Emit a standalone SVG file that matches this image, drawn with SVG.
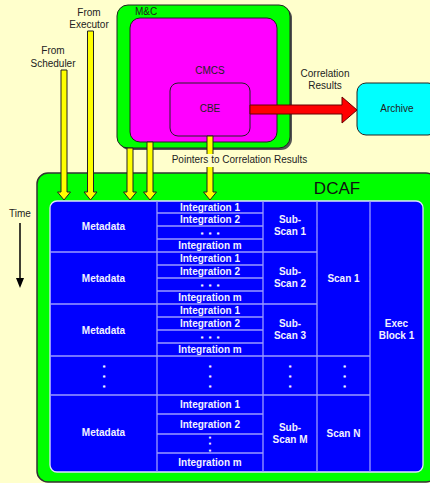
<svg xmlns="http://www.w3.org/2000/svg" width="430" height="483" viewBox="0 0 430 483">
<style>
.lbl{font-family:"Liberation Sans",Arial,sans-serif;font-size:10px;fill:#222}
.cell{font-family:"Liberation Sans",Arial,sans-serif;font-size:10px;font-weight:bold;fill:#F2F2FF;text-anchor:middle}
.vdot{font-family:"Liberation Sans",Arial,sans-serif;font-size:8px;font-weight:bold;fill:#F2F2FF;stroke:#F2F2FF;stroke-width:1;text-anchor:middle}
.sdot{font-family:"Liberation Sans",Arial,sans-serif;font-size:5px;font-weight:bold;fill:#F2F2FF;stroke:#F2F2FF;stroke-width:1.1;text-anchor:middle}
.grid{stroke:#9A9AFF;stroke-width:1.3;fill:none}
.yarrow{fill:#FFFF00;stroke:#222;stroke-width:1}
.box{stroke:#222;stroke-width:1}
</style>
<rect width="430" height="483" fill="#FFFFCC"/>

<g id="mc">
<rect x="119" y="7" width="173" height="143" rx="11" fill="#555"/>
<rect class="box" x="117" y="5" width="173" height="143" rx="11" fill="#00FF00"/>
<text class="lbl" x="135" y="15">M&amp;C</text>
</g>
<g id="cmcs">
<rect class="box" x="130" y="18" width="147" height="124" rx="10" fill="#FF00FF"/>
<text class="lbl" x="210" y="74" text-anchor="middle">CMCS</text>
</g>
<g id="cbe">
<rect class="box" x="170" y="83" width="80" height="53" rx="8" fill="#FF00FF"/>
<text class="lbl" x="210" y="111.5" text-anchor="middle">CBE</text>
</g>
<g id="archive">
<rect class="box" x="357" y="83" width="80" height="52" rx="9" fill="#00FFFF"/>
<text class="lbl" x="397" y="111.5" text-anchor="middle">Archive</text>
</g>

<g id="dcaf">
<rect x="37" y="173" width="400" height="309" rx="11" fill="#00FF00" stroke="#333" stroke-width="1.5"/>
<text x="337" y="194" font-family="Liberation Sans,Arial,sans-serif" font-size="17" fill="#111" text-anchor="middle">DCAF</text>
</g>

<g id="table">
<rect x="50" y="201" width="373" height="271" rx="7" fill="#0000FF" stroke="#E0E0FF" stroke-width="1.3"/>
<path class="grid" d="M157 201V472M263 201V472M317 201V472M370 201V472
M50 252H317M50 304H317M50 356H370M50 395H370
M157 213H263M157 226H263M157 239H263
M157 265H263M157 278H263M157 291H263
M157 317H263M157 330H263M157 343H263
M157 414H263M157 434H263M157 453H263"/>
<text class="cell" x="103.5" y="229.5">Metadata</text>
<text class="cell" x="103.5" y="281.5">Metadata</text>
<text class="cell" x="103.5" y="333.5">Metadata</text>
<text class="cell" x="103.5" y="436">Metadata</text>

<text class="cell" x="210" y="210.5">Integration 1</text>
<text class="cell" x="210" y="223">Integration 2</text>
<text class="vdot" x="202 210 218" y="234">...</text>
<text class="cell" x="210" y="249">Integration m</text>

<text class="cell" x="210" y="262">Integration 1</text>
<text class="cell" x="210" y="275">Integration 2</text>
<text class="vdot" x="202 210 218" y="286">...</text>
<text class="cell" x="210" y="301">Integration m</text>

<text class="cell" x="210" y="314">Integration 1</text>
<text class="cell" x="210" y="327">Integration 2</text>
<text class="vdot" x="202 210 218" y="338">...</text>
<text class="cell" x="210" y="353">Integration m</text>

<text class="cell" x="210" y="408">Integration 1</text>
<text class="cell" x="210" y="427.5">Integration 2</text>
<text class="sdot"><tspan x="210" y="437.5">.</tspan><tspan x="210" y="444">.</tspan><tspan x="210" y="450.5">.</tspan></text>
<text class="cell" x="210" y="466">Integration m</text>

<text class="cell" x="290" y="223">Sub-</text>
<text class="cell" x="290" y="235">Scan 1</text>
<text class="cell" x="290" y="274.5">Sub-</text>
<text class="cell" x="290" y="286.5">Scan 2</text>
<text class="cell" x="290" y="326.5">Sub-</text>
<text class="cell" x="290" y="338.5">Scan 3</text>
<text class="cell" x="290" y="431">Sub-</text>
<text class="cell" x="290" y="443">Scan M</text>

<text class="cell" x="343.5" y="281.5">Scan 1</text>
<text class="cell" x="343.5" y="437">Scan N</text>

<text class="cell" x="396.5" y="327">Exec</text>
<text class="cell" x="396.5" y="339">Block 1</text>

<text class="vdot"><tspan x="104" y="366.5">.</tspan><tspan x="104" y="376.5">.</tspan><tspan x="104" y="386.5">.</tspan></text>
<text class="vdot"><tspan x="210" y="366.5">.</tspan><tspan x="210" y="376.5">.</tspan><tspan x="210" y="386.5">.</tspan></text>
<text class="vdot"><tspan x="290" y="366.5">.</tspan><tspan x="290" y="376.5">.</tspan><tspan x="290" y="386.5">.</tspan></text>
<text class="vdot"><tspan x="344.5" y="366.5">.</tspan><tspan x="344.5" y="376.5">.</tspan><tspan x="344.5" y="386.5">.</tspan></text>
</g>

<g id="connectors">
<polygon class="yarrow" points="61,70 67,70 67,192 70.5,192 64,200 57.5,192 61,192"/>
<polygon class="yarrow" points="87.5,31 93.5,31 93.5,192 97,192 90.5,200 84,192 87.5,192"/>
<polygon class="yarrow" points="127,148 133,148 133,192 136.5,192 130,200 123.5,192 127,192"/>
<polygon class="yarrow" points="147,142 153,142 153,192 156.5,192 150,200 143.5,192 147,192"/>
<polygon class="yarrow" points="207,136 213,136 213,192 216.5,192 210,200 203.5,192 207,192"/>
<polygon points="250,105 342,105 342,97 357,110 342,123 342,114 250,114" fill="#FF0000" stroke="#600" stroke-width="1"/>
<line x1="20" y1="223" x2="20" y2="280" stroke="#000" stroke-width="1.5"/>
<polygon points="16,278 24,278 20,288" fill="#000"/>
</g>

<g id="labels">
<text class="lbl" x="53" y="54" text-anchor="middle">From</text>
<text class="lbl" x="53" y="66.5" text-anchor="middle">Scheduler</text>
<text class="lbl" x="89" y="16" text-anchor="middle">From</text>
<text class="lbl" x="89" y="28" text-anchor="middle">Executor</text>
<text class="lbl" x="325" y="76.5" text-anchor="middle">Correlation</text>
<text class="lbl" x="325" y="88.5" text-anchor="middle">Results</text>
<rect x="168" y="154" width="144" height="13" fill="#FFFFCC"/>
<text class="lbl" x="239.5" y="163" text-anchor="middle">Pointers to Correlation Results</text>
<text class="lbl" x="20" y="216.5" text-anchor="middle">Time</text>
</g>
</svg>
